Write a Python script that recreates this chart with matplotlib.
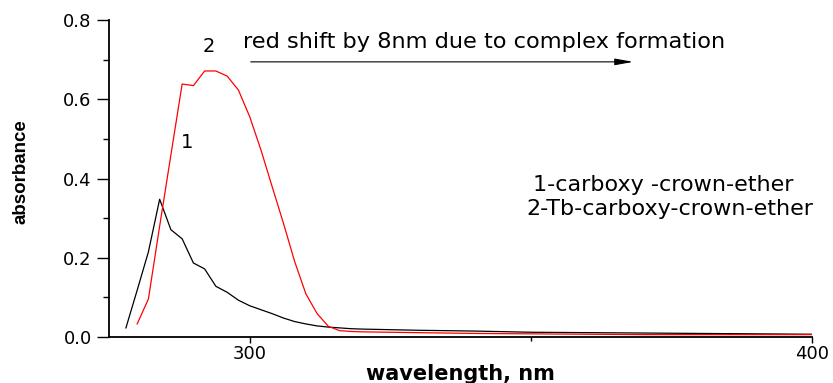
import numpy as np
import matplotlib
matplotlib.use("Agg")
import matplotlib.pyplot as plt
from matplotlib.ticker import MultipleLocator, FormatStrFormatter

plt.rcParams["font.family"] = ["DejaVu Sans"]

# 1 - carboxy crown ether
wl_free = [278, 280, 282, 284, 286, 288, 290, 292, 294, 296, 298, 300, 302, 304,
           306, 308, 310, 312, 314, 316, 318, 320, 330, 340, 350, 360, 370, 380,
           390, 400]
abs_free = [0.023, 0.118, 0.215, 0.348, 0.271, 0.248, 0.187, 0.172, 0.128, 0.113,
            0.093, 0.079, 0.069, 0.059, 0.048, 0.039, 0.033, 0.028, 0.025, 0.023,
            0.021, 0.020, 0.017, 0.015, 0.012, 0.011, 0.010, 0.009, 0.008, 0.007]

# 2 - Tb complex
wl_tb = [280, 282, 284, 286, 288, 290, 292, 294, 296, 298, 300, 302, 304, 306,
         308, 310, 312, 314, 316, 318, 320, 330, 340, 350, 360, 370, 380, 390, 400]
abs_tb = [0.033, 0.096, 0.280, 0.460, 0.639, 0.635, 0.672, 0.672, 0.659, 0.624,
          0.557, 0.473, 0.380, 0.288, 0.191, 0.109, 0.059, 0.027, 0.016, 0.014,
          0.013, 0.011, 0.009, 0.008, 0.007, 0.006, 0.006, 0.006, 0.006]

title = "red shift by 8nm due to complex formation"
legend_lines = ["1-carboxy -crown-ether", "2-Tb-carboxy-crown-ether"]

fig = plt.figure(figsize=(8.33, 3.83), dpi=100)
ax = fig.add_axes([0.1309, 0.1201, 0.8439, 0.8269])

ax.plot(wl_free, abs_free, color="black", lw=0.9)
ax.plot(wl_tb, abs_tb, color="red", lw=0.9)

ax.set_xlim(275, 400)
ax.set_ylim(0, 0.8)
for s in ("top", "right"):
    ax.spines[s].set_visible(False)
for s in ("left", "bottom"):
    ax.spines[s].set_linewidth(1.3)

ax.xaxis.set_major_locator(MultipleLocator(100))
ax.xaxis.set_minor_locator(MultipleLocator(50))
ax.yaxis.set_major_locator(MultipleLocator(0.2))
ax.yaxis.set_minor_locator(MultipleLocator(0.1))
ax.yaxis.set_major_formatter(FormatStrFormatter("%.1f"))
ax.tick_params(axis="y", which="major", length=8.5, width=1.0, pad=4, labelsize=13)
ax.tick_params(axis="y", which="minor", length=4.3, width=1.0)
ax.tick_params(axis="x", which="major", length=4.5, width=1.0, pad=1, labelsize=13)
ax.tick_params(axis="x", which="minor", length=3, width=1.0)

# axis titles placed in figure coordinates
fig.text(460 / 833, 1 - 374 / 383, "wavelength, nm", fontsize=15,
         fontweight="bold", ha="center", va="center")
fig.text(21 / 833, 1 - 172 / 383, "absorbance", fontsize=13.5, fontweight="bold",
         rotation=90, ha="center", va="center",
         family=["Liberation Sans", "DejaVu Sans"])

ax.text(298.9, 0.745, title, fontsize=16.2, ha="left", va="center")
ax.annotate("", xy=(368.2, 0.695), xytext=(300.2, 0.695),
            arrowprops=dict(arrowstyle="-|>,head_length=1.1,head_width=0.2",
                            color="black", lw=0.8, mutation_scale=10,
                            shrinkA=0, shrinkB=0))

ax.text(292.7, 0.733, "2", fontsize=14, ha="center", va="center")
ax.text(288.8, 0.491, "1", fontsize=14, ha="center", va="center")

ax.text(350.3, 0.385, legend_lines[0], fontsize=16, ha="left", va="center",
        clip_on=False)
ax.text(349.2, 0.324, legend_lines[1], fontsize=16, ha="left", va="center",
        clip_on=False)

fig.savefig("out.png", dpi=100)
